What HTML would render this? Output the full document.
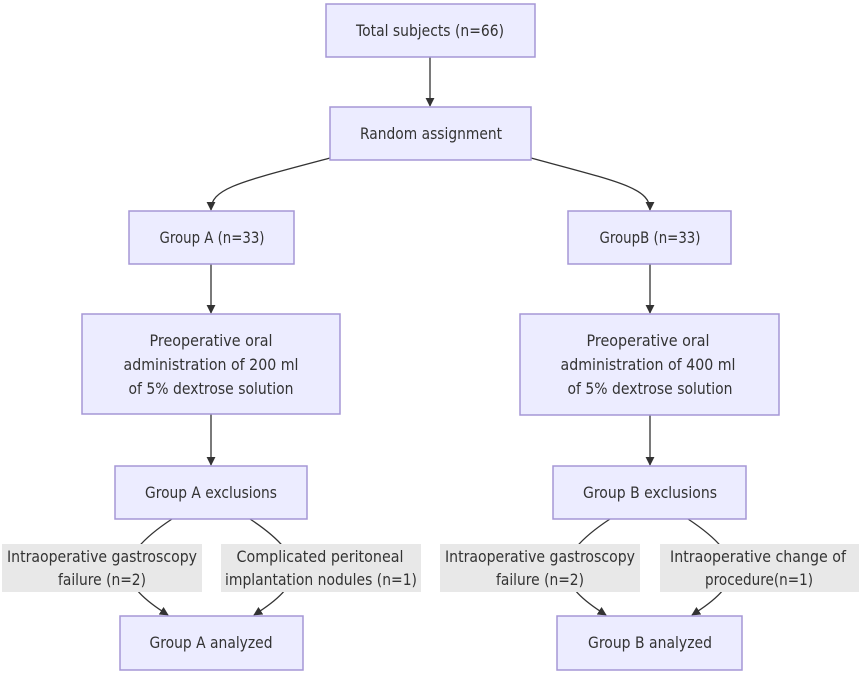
<!DOCTYPE html>
<html><head><meta charset="utf-8"><style>
html,body{margin:0;padding:0;background:#fff;}
svg{display:block;}
text{font-family:"DejaVu Sans","Liberation Sans",sans-serif;font-size:16px;fill:#333;text-anchor:middle;}
.b{fill:#ECECFF;stroke:#A597D6;stroke-width:1.5;}
.l{fill:#E8E8E8;}
.e{fill:none;stroke:#333;stroke-width:1.3;}
</style></head><body>
<svg width="861" height="676" viewBox="0 0 861 676" xmlns="http://www.w3.org/2000/svg">
<defs><marker id="a" viewBox="0 0 10 10" refX="9" refY="5" markerWidth="9" markerHeight="9" markerUnits="userSpaceOnUse" orient="auto"><path d="M0,0L10,5L0,10z" fill="#333"/></marker></defs>

<path class="e" d="M430,57 V106" marker-end="url(#a)"/>
<path class="e" d="M330,158 C240,182 211,188 211,210" marker-end="url(#a)"/>
<path class="e" d="M531,158 C620,182 650,188 650,210" marker-end="url(#a)"/>
<path class="e" d="M211,264 V313" marker-end="url(#a)"/>
<path class="e" d="M650,264 V313" marker-end="url(#a)"/>
<path class="e" d="M211,414 V465" marker-end="url(#a)"/>
<path class="e" d="M650,415 V465" marker-end="url(#a)"/>

<path class="e" d="M172,519 C110,560 120,585 168,615" marker-end="url(#a)"/>
<path class="e" d="M250,519 C312,560 302,585 254,615" marker-end="url(#a)"/>
<path class="e" d="M610,519 C548,560 558,585 606,615" marker-end="url(#a)"/>
<path class="e" d="M688,519 C750,560 740,585 692,615" marker-end="url(#a)"/>

<rect class="l" x="2" y="544" width="200" height="48"/>
<text x="102" y="562" textLength="190" lengthAdjust="spacingAndGlyphs">Intraoperative gastroscopy</text>
<text x="102" y="585" textLength="88" lengthAdjust="spacingAndGlyphs">failure (n=2)</text>
<rect class="l" x="221" y="544" width="200" height="48"/>
<text x="320" y="562" textLength="167" lengthAdjust="spacingAndGlyphs">Complicated peritoneal</text>
<text x="321" y="585" textLength="192" lengthAdjust="spacingAndGlyphs">implantation nodules (n=1)</text>
<rect class="l" x="440" y="544" width="200" height="48"/>
<text x="540" y="562" textLength="190" lengthAdjust="spacingAndGlyphs">Intraoperative gastroscopy</text>
<text x="540" y="585" textLength="88" lengthAdjust="spacingAndGlyphs">failure (n=2)</text>
<rect class="l" x="660" y="544" width="199" height="48"/>
<text x="758" y="562" textLength="176" lengthAdjust="spacingAndGlyphs">Intraoperative change of</text>
<text x="759" y="585" textLength="108" lengthAdjust="spacingAndGlyphs">procedure(n=1)</text>

<rect class="b" x="326" y="4" width="209" height="53"/>
<text x="430" y="36" textLength="148" lengthAdjust="spacingAndGlyphs">Total subjects (n=66)</text>
<rect class="b" x="330" y="107" width="201" height="53"/>
<text x="431" y="139" textLength="142" lengthAdjust="spacingAndGlyphs">Random assignment</text>

<rect class="b" x="129" y="211" width="165" height="53"/>
<text x="212" y="243" textLength="105" lengthAdjust="spacingAndGlyphs">Group A (n=33)</text>
<rect class="b" x="568" y="211" width="163" height="53"/>
<text x="650" y="243" textLength="101" lengthAdjust="spacingAndGlyphs">GroupB (n=33)</text>

<rect class="b" x="82" y="314" width="258" height="100"/>
<text x="211" y="346" textLength="123" lengthAdjust="spacingAndGlyphs">Preoperative oral</text>
<text x="211" y="370" textLength="175" lengthAdjust="spacingAndGlyphs">administration of 200 ml</text>
<text x="211" y="394" textLength="165" lengthAdjust="spacingAndGlyphs">of 5% dextrose solution</text>
<rect class="b" x="520" y="314" width="259" height="101"/>
<text x="648" y="346" textLength="123" lengthAdjust="spacingAndGlyphs">Preoperative oral</text>
<text x="648" y="370" textLength="175" lengthAdjust="spacingAndGlyphs">administration of 400 ml</text>
<text x="650" y="394" textLength="165" lengthAdjust="spacingAndGlyphs">of 5% dextrose solution</text>

<rect class="b" x="115" y="466" width="192" height="53"/>
<text x="211" y="498" textLength="132" lengthAdjust="spacingAndGlyphs">Group A exclusions</text>
<rect class="b" x="553" y="466" width="193" height="53"/>
<text x="650" y="498" textLength="134" lengthAdjust="spacingAndGlyphs">Group B exclusions</text>

<rect class="b" x="120" y="616" width="183" height="54"/>
<text x="211" y="648" textLength="123" lengthAdjust="spacingAndGlyphs">Group A analyzed</text>
<rect class="b" x="557" y="616" width="185" height="54"/>
<text x="650" y="648" textLength="124" lengthAdjust="spacingAndGlyphs">Group B analyzed</text>
</svg>
</body></html>
